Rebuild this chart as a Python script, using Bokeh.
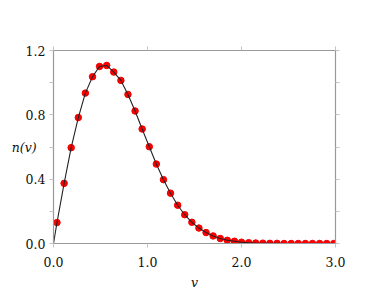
from bokeh.plotting import figure
from bokeh.models import FixedTicker, LinearAxis, Range1d, CustomJSTickFormatter, PrintfTickFormatter
from bokeh.embed import file_html
from bokeh.resources import INLINE

# speeds (x) and distribution values n(v)
v = [0.037, 0.113, 0.188, 0.264, 0.339, 0.415, 0.490, 0.566, 0.641, 0.717,
     0.792, 0.868, 0.943, 1.019, 1.094, 1.170, 1.245, 1.321, 1.396, 1.472,
     1.547, 1.623, 1.698, 1.774, 1.849, 1.925, 2.000, 2.076, 2.151, 2.227,
     2.302, 2.378, 2.453, 2.529, 2.604, 2.680, 2.755, 2.831, 2.906, 2.982]
n = [0.130, 0.374, 0.596, 0.783, 0.935, 1.037, 1.101, 1.107, 1.066, 1.014,
     0.927, 0.824, 0.712, 0.602, 0.494, 0.397, 0.313, 0.238, 0.179, 0.132,
     0.096, 0.068, 0.047, 0.031, 0.020, 0.014, 0.008, 0.005, 0.003, 0.002,
     0.001, 0.001, 0.000, 0.000, 0.000, 0.000, 0.000, 0.000, 0.000, 0.000]
curve_v = [0.0] + v
curve_n = [0.0] + n

x_ticks = [0.0, 1.0, 2.0, 3.0]
y_ticks = [0.0, 0.4, 0.8, 1.2]
y_minor = [0.2, 0.6, 1.0]

FONT = "DejaVu Serif"
FSIZE = "12.5px"
AXIS_COLOR = "#999999"
TICK_COLOR = "#c4c4c4"

p = figure(frame_width=282, frame_height=193,
           x_range=Range1d(0, 3), y_range=Range1d(0, 1.2),
           output_backend="svg", toolbar_location=None,
           min_border_left=53, min_border_top=50, min_border_right=30,
           min_border_bottom=0)
p.outline_line_color = None
p.xgrid.visible = False
p.ygrid.visible = False
p.background_fill_color = "white"
p.border_fill_color = "white"

def style(ax, ticks, minor, labels):
    ax.ticker = FixedTicker(ticks=ticks, minor_ticks=minor)
    ax.axis_line_color = AXIS_COLOR
    ax.axis_line_width = 1.2
    ax.major_tick_line_color = TICK_COLOR
    ax.minor_tick_line_color = TICK_COLOR
    ax.major_tick_in = 0
    ax.major_tick_out = 4
    ax.minor_tick_in = 0
    ax.minor_tick_out = 4
    if labels:
        ax.formatter = PrintfTickFormatter(format="%.1f")
        ax.major_label_text_font = FONT
        ax.major_label_text_font_size = FSIZE
        ax.major_label_text_color = "#111111"
    else:
        ax.formatter = CustomJSTickFormatter(code="return ''")
        ax.major_label_text_font_size = "1px"

xa = p.xaxis[0]
ya = p.yaxis[0]
style(xa, x_ticks, [], True)
style(ya, y_ticks, y_minor, True)
xa.major_label_standoff = 9
ya.major_label_standoff = 4
xa.axis_label = "v"
xa.axis_label_text_font = FONT
xa.axis_label_text_font_style = "italic"
xa.axis_label_text_font_size = FSIZE
xa.axis_label_text_color = "#111111"
xa.axis_label_standoff = 5

ya.axis_label = "n(v)"
ya.axis_label_orientation = "horizontal"
ya.axis_label_text_font = FONT
ya.axis_label_text_font_style = "italic"
ya.axis_label_text_font_size = FSIZE
ya.axis_label_text_color = "#111111"
ya.axis_label_standoff = -14

top = LinearAxis()
style(top, x_ticks, [], False)
p.add_layout(top, "above")
right = LinearAxis()
style(right, y_ticks, y_minor, False)
p.add_layout(right, "right")

p.scatter(v, n, size=6.5, fill_color="#ff0000", line_color="#f00000")
p.line(curve_v, curve_n, line_color="#222222", line_width=1.1)

open("out.html", "w").write(file_html(p, INLINE))
